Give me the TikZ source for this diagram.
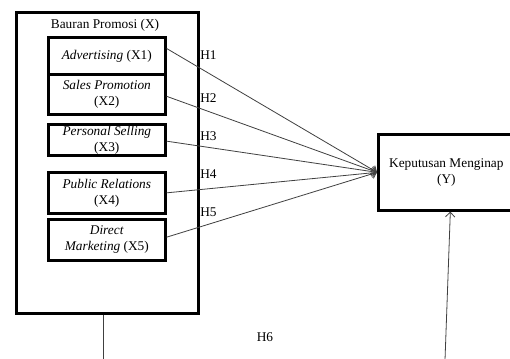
\documentclass[tikz,border=0pt]{standalone}
\usepackage{fontspec}
\setmainfont{Liberation Serif}
\usetikzlibrary{arrows.meta}
\begin{document}
\begin{tikzpicture}[x=0.75pt,y=-0.75pt,
  box/.style={draw=black,line width=2pt,inner sep=0pt,anchor=north west,align=center,font=\fontsize{10}{12}\selectfont},
  lbl/.style={inner sep=0pt,font=\fontsize{10}{12}\selectfont},
  conn/.style={draw=black!75,line width=0.6pt},
  arr/.style={conn,-{Straight Barb[length=3.5pt,width=7pt]}}]
\clip (0,0) rectangle (510,358);
\fill[white] (0,0) rectangle (510,358);
\node[box,minimum width=136.5pt,minimum height=225.75pt] (outer) at (15,11) {};
\node[lbl] (title) at (105,25) {Bauran Promosi (X)};
\node[box,minimum width=87.75pt,minimum height=27.75pt] (adv) at (47,36) {\textit{Advertising} (X1)};
\node[box,minimum width=87.75pt,minimum height=30pt] (sp) at (47,73) {\textit{Sales Promotion}\\(X2)};
\node[box,minimum width=87.75pt,minimum height=23.25pt] (ps) at (47,123) {\textit{Personal Selling}\\(X3)};
\node[box,minimum width=87.75pt,minimum height=30.75pt] (pr) at (47,171) {\textit{Public Relations}\\(X4)};
\node[box,minimum width=87.75pt,minimum height=30.75pt] (dm) at (47,218) {\textit{Direct}\\\textit{Marketing} (X5)};
\node[box,minimum width=102pt,minimum height=57pt] (y) at (377,133) {Keputusan Menginap\\(Y)};
\node[lbl,anchor=west] (h1) at (200,55) {H1};
\node[lbl,anchor=west] (h2) at (200,98) {H2};
\node[lbl,anchor=west] (h3) at (200,136) {H3};
\node[lbl,anchor=west] (h4) at (200,174) {H4};
\node[lbl,anchor=west] (h5) at (200,212) {H5};
\node[lbl] (h6) at (265,337) {H6};
\draw[arr] ([yshift=5.5pt]adv.east) -- (y.west);
\draw[arr] ([yshift=-1.5pt]sp.east) -- (y.west);
\draw[arr] ([yshift=-1pt]ps.east) -- (y.west);
\draw[arr] (pr.east) -- (y.west);
\draw[arr] ([yshift=2pt]dm.east) -- (y.west);
\coordinate (b1) at (103,360);
\coordinate (b2) at (445,360);
\draw[conn] (b1 |- outer.south) -- (b1);
\draw[arr] (b2) -- ([xshift=3pt]y.south);
\end{tikzpicture}
\end{document}
